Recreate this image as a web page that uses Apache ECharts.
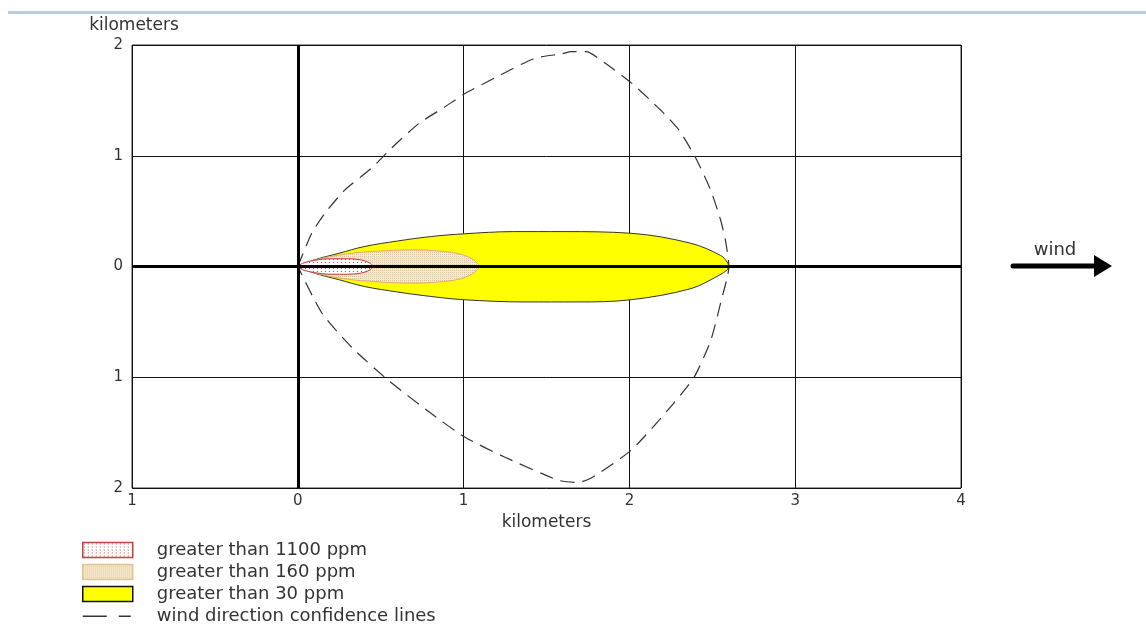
<!DOCTYPE html>
<html>
<head>
<meta charset="utf-8">
<script src="https://cdn.jsdelivr.net/npm/echarts@6/dist/echarts.min.js"></script>
<style>
html,body{margin:0;padding:0;background:#fff;}
#chart{width:1146px;height:632px;}
</style>
</head>
<body>
<div id="chart"></div>
<script>
// ---- data (kilometers) ----
var xTicks = [-1, 0, 1, 2, 3, 4];
var yTicks = [-2, -1, 0, 1, 2];

// > 30 ppm zone outline
var zone30UpperX = [0, 0.1, 0.25, 0.4, 0.6, 0.8, 1.0, 1.3, 1.6, 2.01, 2.37, 2.55, 2.59, 2.6];
var zone30UpperY = [0, 0.06, 0.12, 0.18, 0.23, 0.27, 0.295, 0.315, 0.315, 0.30, 0.21, 0.10, 0.04, 0];
var zone30LowerX = [0, 0.1, 0.25, 0.4, 0.6, 0.8, 1.0, 1.37, 1.69, 2.01, 2.37, 2.54, 2.59, 2.6];
var zone30LowerY = [0, -0.06, -0.12, -0.18, -0.23, -0.27, -0.30, -0.32, -0.32, -0.30, -0.20, -0.08, -0.03, 0];

// > 160 ppm zone outline
var zone160X = [0, 0.05, 0.15, 0.3, 0.5, 0.7, 0.85, 0.97, 1.05, 1.1];
var zone160Y = [0, 0.035, 0.075, 0.115, 0.14, 0.15, 0.14, 0.115, 0.07, 0];

// > 1100 ppm zone outline
var zone1100X = [0, 0.03, 0.1, 0.2, 0.3, 0.38, 0.43, 0.455];
var zone1100Y = [0, 0.03, 0.055, 0.07, 0.07, 0.06, 0.035, 0];

// wind direction confidence lines
var confUpperX = [0, 0.084, 0.163, 0.283, 0.446, 0.566, 0.729, 0.886, 1.006, 1.211, 1.428, 1.59, 1.65, 1.74, 1.85, 2.01, 2.19, 2.30, 2.40, 2.49, 2.55, 2.58, 2.60];
var confUpperY = [0, 0.30, 0.48, 0.69, 0.89, 1.07, 1.29, 1.44, 1.56, 1.72, 1.88, 1.92, 1.94, 1.94, 1.84, 1.66, 1.41, 1.23, 0.98, 0.69, 0.42, 0.23, 0];
var confLowerX = [0, 0.145, 0.325, 0.548, 0.807, 1.006, 1.247, 1.572, 1.69, 1.77, 2.01, 2.23, 2.39, 2.49, 2.55, 2.60];
var confLowerY = [0, -0.42, -0.73, -1.03, -1.33, -1.54, -1.72, -1.93, -1.95, -1.91, -1.66, -1.30, -1.00, -0.67, -0.33, 0];

var names = ['greater than 1100 ppm', 'greater than 160 ppm', 'greater than 30 ppm', 'wind direction confidence lines'];

// ---- helpers ----
function pairs(xs, ys, sign) {
  return xs.map(function (x, i) { return [x, ys[i] * (sign || 1)]; });
}
function makePattern(w, h, bg, dot, dots) {
  var c = document.createElement('canvas');
  c.width = w; c.height = h;
  var ctx = c.getContext('2d');
  ctx.fillStyle = bg; ctx.fillRect(0, 0, w, h);
  ctx.fillStyle = dot;
  dots.forEach(function (d) { ctx.fillRect(d[0], d[1], 1, 1); });
  return { image: c, repeat: 'repeat' };
}
var redPattern = makePattern(4, 3, '#ffffff', '#d04848', [[1, 1]]);
var beigePattern = makePattern(2, 2, '#f6ead0', '#dcc293', [[0, 0]]);

var confLoop = pairs(confUpperX, confUpperY).concat(pairs(confLowerX, confLowerY).reverse().slice(1));

function zoneSeries(name, data, fill, stroke, z) {
  return {
    name: name, type: 'line', data: data, z: z,
    symbol: 'none', smooth: 0.35, silent: true,
    lineStyle: { color: stroke, width: 1 },
    itemStyle: { color: stroke },
    areaStyle: { color: fill, opacity: 1, origin: 0 }
  };
}

// dashed legend glyph "— –" (tiny corner dots fix its 50x15 box)
var dashIcon = 'path://M0,0h0.01v0.01h-0.01z M49.99,14.99h0.01v0.01h-0.01z M0,7h24v1.4h-24z M36,7h12v1.4h-12z';

var chart = echarts.init(document.getElementById('chart'), null, { renderer: 'canvas' });
var font = 'DejaVu Sans';
var option = {
  animation: false,
  backgroundColor: '#ffffff',
  grid: { left: 132, right: 185, top: 45, bottom: 144, show: true, borderColor: '#333', borderWidth: 1, backgroundColor: 'transparent' },
  xAxis: {
    type: 'value', min: xTicks[0], max: xTicks[xTicks.length - 1], interval: 1,
    name: 'kilometers', nameLocation: 'middle', nameGap: 25,
    nameTextStyle: { fontFamily: font, fontSize: 17, color: '#333' },
    axisLine: { show: false, onZero: false }, axisTick: { show: false },
    axisLabel: { fontFamily: font, fontSize: 15, color: '#333', margin: 6, formatter: function (v) { return String(Math.abs(v)); } },
    splitLine: { show: true, lineStyle: { color: '#111', width: 1 } }
  },
  yAxis: {
    type: 'value', min: yTicks[0], max: yTicks[yTicks.length - 1], interval: 1,
    name: 'kilometers', nameLocation: 'end', nameGap: 11,
    nameTextStyle: { fontFamily: font, fontSize: 17, color: '#333', align: 'center', verticalAlign: 'bottom', padding: [0, 0, 0, 4] },
    axisLine: { show: false, onZero: false }, axisTick: { show: false },
    axisLabel: { fontFamily: font, fontSize: 15, color: '#333', margin: 9, formatter: function (v) { return String(Math.abs(v)); } },
    splitLine: { show: true, lineStyle: { color: '#111', width: 1 } }
  },
  legend: {
    orient: 'vertical', left: 82, top: 541, height: 91, padding: 0,
    itemWidth: 50, itemHeight: 15, itemGap: 4,
    selectedMode: false,
    textStyle: { fontFamily: font, fontSize: 18, color: '#333', padding: [0, 0, 0, 19] },
    data: [
      { name: names[0], icon: 'rect', itemStyle: { color: redPattern, borderColor: '#c84040', borderWidth: 1.5 } },
      { name: names[1], icon: 'rect', itemStyle: { color: beigePattern, borderColor: '#e2c58e', borderWidth: 1.5 } },
      { name: names[2], icon: 'rect', itemStyle: { color: '#ffff00', borderColor: '#111', borderWidth: 1.5 } },
      { name: names[3], icon: dashIcon, itemStyle: { color: '#333', borderWidth: 0 } }
    ]
  },
  graphic: [
    { type: 'line', shape: { x1: 8, y1: 12.5, x2: 1146, y2: 12.5 }, style: { stroke: '#b8cce4', lineWidth: 3 }, silent: true },
    { type: 'line', shape: { x1: 1013, y1: 266, x2: 1097, y2: 266 }, style: { stroke: '#000', lineWidth: 5, lineCap: 'round' }, silent: true },
    { type: 'polygon', shape: { points: [[1094, 255], [1112, 266], [1094, 277]] }, style: { fill: '#000' }, silent: true },
    { type: 'text', x: 1055, y: 250, style: { text: 'wind', fontFamily: font, fontSize: 18, fill: '#333', textAlign: 'center', textVerticalAlign: 'middle' }, silent: true }
  ],
  series: [
    zoneSeries(names[2], pairs(zone30UpperX, zone30UpperY), '#ffff00', '#333', 2),
    zoneSeries(names[2], pairs(zone30LowerX, zone30LowerY), '#ffff00', '#333', 2),
    zoneSeries(names[1], pairs(zone160X, zone160Y, 1), beigePattern, '#eaa37a', 3),
    zoneSeries(names[1], pairs(zone160X, zone160Y, -1), beigePattern, '#eaa37a', 3),
    zoneSeries(names[0], pairs(zone1100X, zone1100Y, 1), redPattern, '#c03a3a', 4),
    zoneSeries(names[0], pairs(zone1100X, zone1100Y, -1), redPattern, '#c03a3a', 4),
    {
      name: names[3], type: 'line', data: confLoop, z: 5, symbol: 'none', smooth: 0.2, silent: true,
      lineStyle: { color: '#333', width: 1.2, type: [14, 8] },
      itemStyle: { color: '#333' },
      markLine: {
        silent: true, symbol: 'none', z: 6,
        label: { show: false },
        lineStyle: { color: '#000', width: 3, type: 'solid' },
        emphasis: { disabled: true },
        data: [{ xAxis: 0 }, { yAxis: 0 }]
      }
    }
  ]
};
chart.setOption(option);
</script>
</body>
</html>
